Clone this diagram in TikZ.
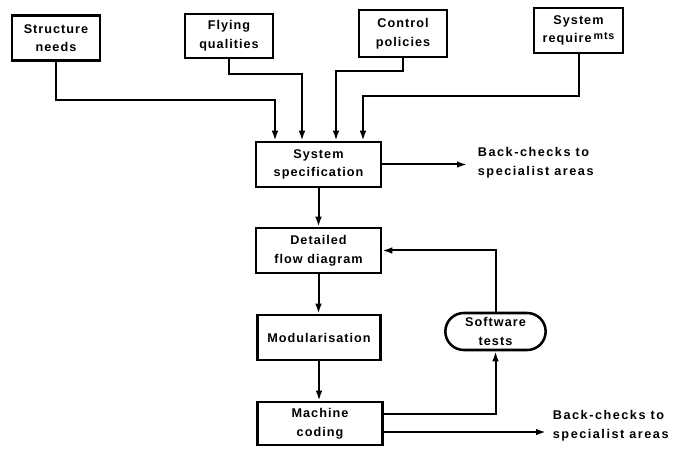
\documentclass[tikz,border=0pt]{standalone}
\usepackage{fontspec}
\setmainfont{Liberation Sans}[LetterSpace=8]
\usetikzlibrary{arrows.meta,shapes.misc,calc}
\begin{document}
\begin{tikzpicture}[x=0.75pt,y=-0.75pt,
  txt/.style={font=\bfseries\fontsize{9.5}{14}\selectfont},
  box/.style={txt,draw,line width=1.9pt,align=center,inner sep=1pt},
  arr/.style={line width=1.5pt,-{Latex[length=7.5pt,width=5pt]}},
  lbl/.style={font=\bfseries\fontsize{9.5}{14}\selectfont\addfontfeatures{LetterSpace=12},align=left,anchor=west,inner xsep=8pt,inner ysep=0pt}]
\useasboundingbox (0,0) rectangle (676,449);
% top input boxes
\node[box,minimum width=66pt,minimum height=33.75pt] (sn) at (56,38) {Structure\\needs};
\node[box,minimum width=66pt,minimum height=33pt] (fq) at (229,36) {Flying\\qualities};
\node[box,minimum width=66pt,minimum height=35pt] (cp) at (403,33.5) {Control\\policies};
\node[box,minimum width=67pt,minimum height=33.75pt] (sr) at (578.5,30.5) {System\\require\,\raisebox{0.5ex}{\fontsize{8}{9}\selectfont mts}};
% main column
\node[box,minimum width=93.75pt,minimum height=33.75pt] (spec) at (318.5,164.5) {System\\specification};
\node[box,minimum width=93.75pt,minimum height=33.75pt] (dfd) at (318.5,250.5) {Detailed\\flow diagram};
\node[box,minimum width=92.5pt,minimum height=33.75pt] (mod) at (319,337.5) {Modularisation};
\node[box,minimum width=93.75pt,minimum height=32.25pt] (mc) at (320,423.5) {Machine\\coding};
\node[box,rounded rectangle,minimum width=77.25pt,minimum height=27.75pt] (st) at (495.5,331.5) {Software\\tests};
% labels
\node[lbl] (bc1) at (467,163) {Back-checks to\\specialist areas};
\node[lbl,inner xsep=5pt] (bc2) at (546,426) {Back-checks to\\specialist areas};
% knee points
\coordinate (k1) at (275,100);
\coordinate (k2) at (302,74);
\coordinate (k3) at (336,71);
\coordinate (k4) at (363,96);
\draw[arr] (sn.south) |- (k1) -- (k1 |- spec.north);
\draw[arr] (fq.south) |- (k2) -- (k2 |- spec.north);
\draw[arr] (cp.south) |- (k3) -- (k3 |- spec.north);
\draw[arr] (sr.south) |- (k4) -- (k4 |- spec.north);
% column arrows
\draw[arr] (spec.south) -- (dfd.north);
\draw[arr] (dfd.south) -- (dfd.south |- mod.north);
\draw[arr] (mod.south) -- (mod.south |- mc.north);
\draw[arr] (spec.east) -- (spec.east -| bc1.west);
% feedback
\draw[arr] (st.north) |- (dfd.east);
\coordinate (m1) at ([yshift=7.1pt]mc.east);
\coordinate (m2) at ([yshift=-6.4pt]mc.east);
\draw[arr] (m1) -| (st.south);
\draw[arr] (m2) -- (m2 -| bc2.west);
\end{tikzpicture}
\end{document}
